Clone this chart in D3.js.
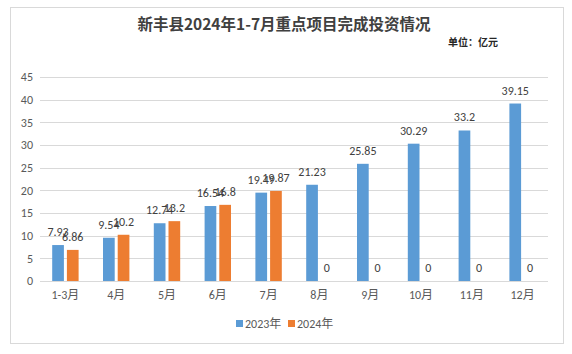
<!DOCTYPE html>
<html>
<head>
<meta charset="utf-8">
<script src="https://cdn.jsdelivr.net/npm/d3@7"></script>
<style>
  body { margin: 0; background: #fff; }
</style>
</head>
<body>
<div id="canvas"></div>
<script>
"use strict"

/* Data */
let months = ["1-3月", "4月", "5月", "6月", "7月", "8月", "9月", "10月", "11月", "12月"]
let values2023 = [7.93, 9.54, 12.74, 16.54, 19.49, 21.23, 25.85, 30.29, 33.2, 39.15]
let values2024 = [6.86, 10.2, 13.2, 16.8, 19.87, 0, 0, 0, 0, 0]
let seriesNames = ["2023年", "2024年"]
let yTicks = [0, 5, 10, 15, 20, 25, 30, 35, 40, 45]

let svgWidth = 572
let svgHeight = 354
let margin = { top: 77, right: 24, bottom: 73, left: 40 }

let colors = ["#5B9BD5", "#ED7D31"]
let latinFont = "Calibri, Carlito, 'Liberation Sans', 'Noto Sans CJK SC', sans-serif"

let svg = d3.select("#canvas")
    .append("svg")
    .attr("width", svgWidth)
    .attr("height", svgHeight)

/* chart frame */
svg.append("rect")
    .attr("x", 10.5)
    .attr("y", 7.5)
    .attr("width", 553)
    .attr("height", 336)
    .attr("fill", "#fff")
    .attr("stroke", "#d9d9d9")
    .attr("stroke-width", 1)

let xScale = d3.scaleBand()
    .domain(months)
    .range([margin.left, svgWidth - margin.right])

let yScale = d3.scaleLinear()
    .domain([0, 45])
    .range([svgHeight - margin.bottom, margin.top])

let barW = 11.7
let barGap = 3

/* grid lines */
svg.append("g")
    .selectAll("line")
    .data(yTicks)
    .join("line")
    .attr("x1", margin.left)
    .attr("x2", svgWidth - margin.right)
    .attr("y1", d => Math.round(yScale(d)) + 0.5)
    .attr("y2", d => Math.round(yScale(d)) + 0.5)
    .attr("stroke", "#d9d9d9")
    .attr("stroke-width", 1)

/* y axis labels */
let yAxis = d3.axisLeft(yScale).tickValues(yTicks).tickSize(0).tickPadding(7)
let yG = svg.append("g")
    .attr("transform", `translate(${margin.left},0)`)
    .call(yAxis)
yG.select(".domain").remove()
yG.selectAll("text")
    .attr("fill", "#595959")
    .attr("font-size", "12px")
    .attr("font-family", latinFont)

/* x axis labels */
let xAxis = d3.axisBottom(xScale).tickSize(0).tickPadding(9)
let xG = svg.append("g")
    .attr("transform", `translate(0,${svgHeight - margin.bottom})`)
    .call(xAxis)
xG.select(".domain").remove()
xG.selectAll("text")
    .attr("fill", "#595959")
    .attr("font-size", "12px")
    .attr("font-family", latinFont)

/* bars */
let seriesData = [values2023, values2024]
seriesData.forEach(function (vals, s) {
    let offset = s === 0 ? -barGap / 2 - barW : barGap / 2
    let g = svg.append("g")
    g.selectAll("rect")
        .data(vals)
        .join("rect")
        .attr("x", (d, i) => xScale(months[i]) + xScale.bandwidth() / 2 + offset)
        .attr("y", d => yScale(d))
        .attr("width", barW)
        .attr("height", d => yScale(0) - yScale(d))
        .attr("fill", colors[s])

    g.selectAll("text")
        .data(vals)
        .join("text")
        .attr("x", (d, i) => xScale(months[i]) + xScale.bandwidth() / 2 + offset + barW / 2)
        .attr("y", d => yScale(d) - 9)
        .attr("text-anchor", "middle")
        .attr("fill", "#404040")
        .attr("font-size", "12px")
        .attr("font-family", latinFont)
        .text(d => d)
})

/* title */
svg.append("text")
    .attr("x", 284)
    .attr("y", 30)
    .attr("text-anchor", "middle")
    .attr("fill", "#404040")
    .attr("font-size", "15.5px")
    .attr("font-weight", "bold")
    .attr("font-family", "'Noto Sans CJK SC', sans-serif")
    .text("新丰县2024年1-7月重点项目完成投资情况")

svg.append("text")
    .attr("x", 498)
    .attr("y", 46)
    .attr("text-anchor", "end")
    .attr("fill", "#262626")
    .attr("font-size", "10px")
    .attr("font-weight", "bold")
    .attr("font-family", "'Noto Sans CJK SC', sans-serif")
    .text("单位：亿元")

/* legend */
let legend = svg.append("g")
let legendX = [236, 288]
seriesNames.forEach(function (name, s) {
    legend.append("rect")
        .attr("x", legendX[s])
        .attr("y", 320)
        .attr("width", 7)
        .attr("height", 7)
        .attr("fill", colors[s])
    legend.append("text")
        .attr("x", legendX[s] + 9)
        .attr("y", 328)
        .attr("fill", "#595959")
        .attr("font-size", "12px")
        .attr("font-family", latinFont)
        .text(name)
})
</script>
</body>
</html>
